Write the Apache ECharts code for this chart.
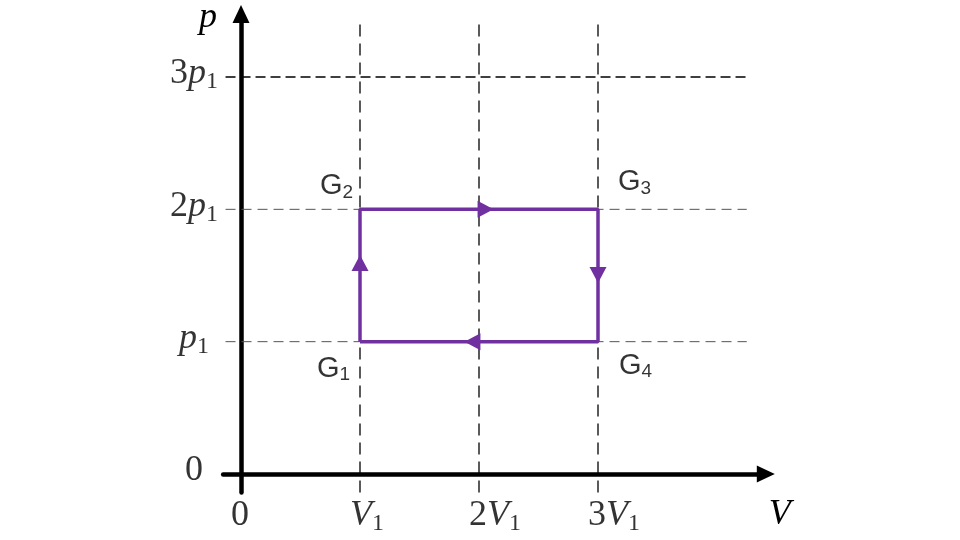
<!DOCTYPE html>
<html><head><meta charset="utf-8">
<script src="https://cdn.jsdelivr.net/npm/echarts@6/dist/echarts.min.js"></script>
<style>html,body{margin:0;padding:0;background:#fff}#c{width:960px;height:540px}</style>
</head><body><div id="c"></div>
<script>
// ---- data ----
const xTickValues = [0, 1, 2, 3];
const xTickLabels = ['0', 'V_1', '2V_1', '3V_1'];
const yTickValues = [0, 1, 2, 3];
const yTickLabels = ['0', 'p_1', '2p_1', '3p_1'];
const xGuides = [1, 2, 3];
const yGuides = [1, 2, 3];
const cycleV = [1, 1, 3, 3, 1];
const cycleP = [1, 2, 2, 1, 1];
const stateNames = ['G_1', 'G_2', 'G_3', 'G_4'];
const stateV = [1, 1, 3, 3];
const stateP = [1, 2, 2, 1];
const arrowV = [1, 2.055, 3, 1.945];
const arrowP = [1.594, 2, 1.504, 1];
const arrowDir = ['up', 'right', 'down', 'left'];
const axisNameX = 'V';
const axisNameY = 'p';

// ---- layout ----
const X0 = 241, XU = 119, Y0 = 474, YU = 132.33;
const xMin = -0.15, xMax = 4.41, yMin = -0.14, yMax = 3.476;
const PURPLE = '#7030A0';

function mathFmt(s) {
  const parts = s.split('_');
  let out = '';
  for (const ch of parts[0]) out += (/[0-9]/.test(ch) ? '{n|' : '{i|') + ch + '}';
  if (parts[1]) out += '{s|' + parts[1] + '}';
  return out;
}
function gFmt(s) {
  const parts = s.split('_');
  return '{g|' + parts[0] + '}' + (parts[1] ? '{gs|' + parts[1] + '}' : '');
}
const mathRich = {
  n: { fontFamily: 'Liberation Serif', fontSize: 36, color: '#000', lineHeight: 40, verticalAlign: 'middle' },
  i: { fontFamily: 'Liberation Serif', fontStyle: 'italic', fontSize: 36, color: '#000', lineHeight: 40, verticalAlign: 'middle' },
  s: { fontFamily: 'Liberation Serif', fontSize: 24, color: '#000', lineHeight: 16, verticalAlign: 'bottom' }
};
const gRich = {
  g: { fontFamily: 'Liberation Sans', fontSize: 29, color: '#000', lineHeight: 32, verticalAlign: 'middle' },
  gs: { fontFamily: 'Liberation Sans', fontSize: 19, color: '#000', lineHeight: 15, verticalAlign: 'bottom' }
};

const series = [];
xGuides.forEach(v => series.push({
  type: 'line', silent: true, symbol: 'none', z: 1,
  data: [[v, yMin], [v, 3.43]],
  lineStyle: { color: '#000', width: 1.3, type: [12, 7] }
}));
yGuides.forEach((p, k) => series.push({
  type: 'line', silent: true, symbol: 'none', z: 1,
  data: [[-0.13, p], [4.25, p]],
  lineStyle: k === 2 ? { color: '#000', width: 1.5, type: [10, 5] } : { color: '#555', width: 1, type: [10, 6] }
}));
series.push({
  type: 'line', silent: true, symbol: 'none', z: 5,
  data: cycleV.map((v, k) => [v, cycleP[k]]),
  lineStyle: { color: PURPLE, width: 3.5 }
});
const rot = { up: 0, right: -90, down: 180, left: 90 };
series.push({
  type: 'scatter', silent: true, z: 6,
  symbol: 'triangle', symbolSize: [17, 16],
  itemStyle: { color: PURPLE, opacity: 1 },
  data: arrowV.map((v, k) => ({ value: [v, arrowP[k]], symbolRotate: rot[arrowDir[k]] }))
});
const gPos = [
  { align: 'right', offset: [-10, 27] },
  { align: 'right', offset: [-7, -23] },
  { align: 'left', offset: [20, -27] },
  { align: 'left', offset: [21, 24] }
];
series.push({
  type: 'scatter', silent: true, z: 7, symbolSize: 1,
  itemStyle: { color: 'rgba(0,0,0,0)' },
  data: stateNames.map((n, k) => ({
    value: [stateV[k], stateP[k]], name: n,
    label: { show: true, color: '#000', position: 'inside', align: gPos[k].align, verticalAlign: 'middle',
      offset: gPos[k].offset, formatter: p => gFmt(p.name), rich: gRich }
  }))
});
series.push({
  type: 'scatter', silent: true, z: 7, symbolSize: 1,
  itemStyle: { color: 'rgba(0,0,0,0)' },
  data: xTickValues.map((v, k) => ({ value: [v, 0], name: xTickLabels[k] })),
  label: { show: true, color: '#000', position: 'inside', align: 'left', verticalAlign: 'middle', offset: [-10, 42],
    formatter: p => mathFmt(p.name), rich: mathRich }
});
series.push({
  type: 'scatter', silent: true, z: 7, symbolSize: 1,
  itemStyle: { color: 'rgba(0,0,0,0)' },
  data: yTickValues.map((v, k) => ({ value: [0, v], name: yTickLabels[k] })),
  label: { show: true, color: '#000', position: 'inside', align: 'center', verticalAlign: 'middle', offset: [-47, -3],
    formatter: p => mathFmt(p.name), rich: mathRich }
});

const chart = echarts.init(document.getElementById('c'), null, { renderer: 'canvas' });
chart.setOption({
  animation: false,
  backgroundColor: '#fff',
  grid: {
    left: X0 + xMin * XU, width: (xMax - xMin) * XU,
    top: Y0 - yMax * YU, height: (yMax - yMin) * YU, containLabel: false
  },
  xAxis: {
    type: 'value', min: xMin, max: xMax,
    name: mathFmt(axisNameX), nameLocation: 'end', nameGap: 3,
    nameTextStyle: { color: '#000', align: 'left', verticalAlign: 'middle', padding: [82, 0, 0, 0], rich: mathRich },
    axisLine: { show: true, onZero: true, symbol: ['none', 'triangle'], symbolSize: [17, 18],
      lineStyle: { color: '#000', width: 4.5 } },
    axisTick: { show: false }, axisLabel: { show: false }, splitLine: { show: false }
  },
  yAxis: {
    type: 'value', min: yMin, max: yMax,
    name: mathFmt(axisNameY), nameLocation: 'end', nameGap: -4,
    nameTextStyle: { color: '#000', align: 'center', verticalAlign: 'middle', padding: [0, 66, 0, 0], rich: mathRich },
    axisLine: { show: true, onZero: true, symbol: ['none', 'triangle'], symbolSize: [17, 18],
      lineStyle: { color: '#000', width: 4.5 } },
    axisTick: { show: false }, axisLabel: { show: false }, splitLine: { show: false }
  },
  series: series
});
</script></body></html>
